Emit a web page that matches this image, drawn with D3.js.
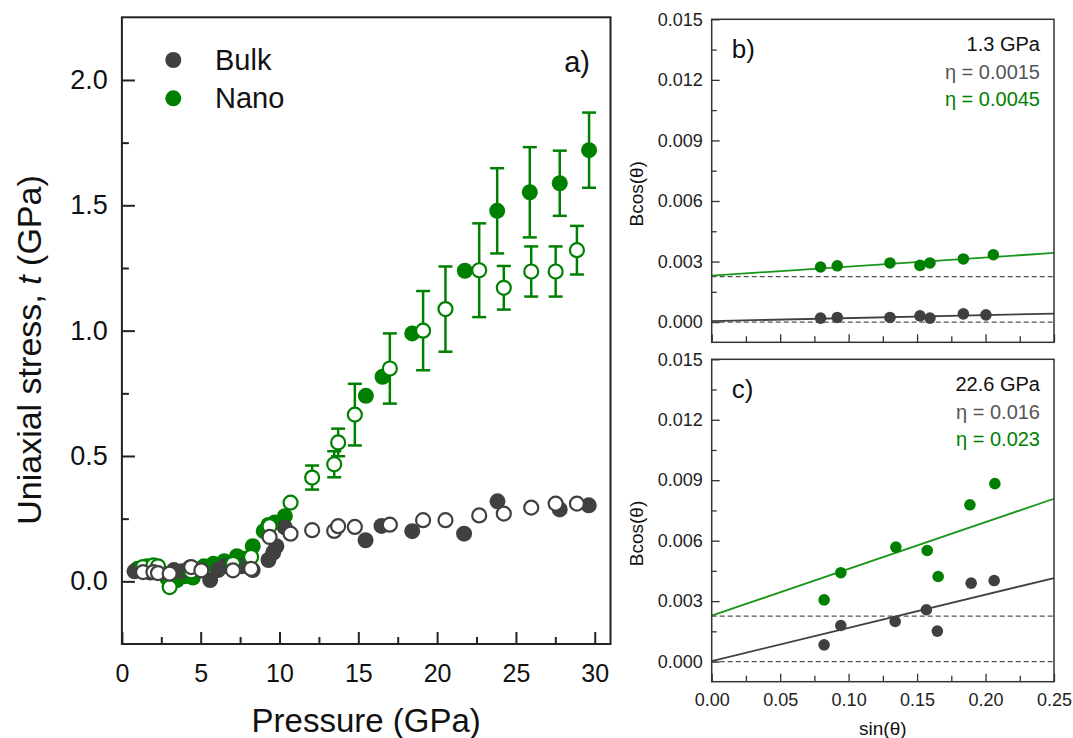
<!DOCTYPE html>
<html><head><meta charset="utf-8">
<script src="https://cdn.jsdelivr.net/npm/d3@7/dist/d3.min.js"></script>
<style>
body{margin:0;background:#fff;}
svg{display:block;font-family:"Liberation Sans",Arial,sans-serif;}
</style></head><body>
<svg id="chart" width="1073" height="738"></svg>
<script>
// ---------- Panel a data ----------
const bulkFilledP = [0.8,1.3,1.8,2.5,3.3,3.8,4.3,5.0,5.6,6.1,6.5,7.0,7.6,8.3,9.3,9.6,9.8,10.34,15.46,16.47,18.42,21.71,23.83,27.78,29.62];
const bulkFilledT = [0.04,0.045,0.035,0.035,0.045,0.04,0.055,0.045,0.005,0.045,0.06,0.065,0.06,0.045,0.085,0.115,0.14,0.215,0.164,0.221,0.2,0.19,0.319,0.287,0.303];

const nanoFilledP = [1.0,1.6,2.3,2.9,3.5,4.0,4.5,5.2,5.8,6.5,7.3,7.8,8.3,9.0,9.3,9.7,10.34,15.48,16.54,18.42,21.76,23.81,25.88,27.78,29.64];
const nanoFilledT = [0.05,0.06,0.04,0.01,0.005,0.02,0.015,0.06,0.07,0.08,0.1,0.09,0.14,0.2,0.225,0.235,0.26,0.74,0.816,0.989,1.239,1.478,1.552,1.588,1.72];
const nanoFilledErr = [0,0,0,0,0,0,0,0,0,0,0,0,0,0,0,0,0,0,0,0,0,0.17,0.18,0.13,0.15];

const openP = [1.34,2.0,2.29,3.03,4.4,5.04,7.05,8.2,9.37,10.7,12.07,13.47,13.72,14.78,17.0,19.11,20.53,22.67,24.23,25.97,27.52,28.87];
const bulkOpenT = [0.037,0.037,0.033,0.031,0.057,0.044,0.044,0.05,0.177,0.19,0.204,0.201,0.22,0.217,0.226,0.244,0.244,0.263,0.27,0.294,0.31,0.31];
const nanoOpenT = [0.057,0.064,0.06,-0.023,0.04,0.05,0.07,0.097,0.22,0.314,0.414,0.467,0.554,0.665,0.849,1.0,1.086,1.241,1.171,1.236,1.236,1.321];
const nanoOpenErr = [0,0,0,0,0,0,0,0,0,0,0.048,0.052,0.055,0.123,0.14,0.158,0.17,0.187,0.087,0.1,0.1,0.097];

const pressureTicks = [0,5,10,15,20,25,30];
const stressTicks = [0,0.5,1.0,1.5,2.0];
const legendLabels = ["Bulk","Nano"];

// ---------- Panels b, c data ----------
const bSinGray = [0.0795,0.0917,0.1302,0.1521,0.1594,0.1838,0.2003];
const bBGray   = [0.0002,0.00023,0.00023,0.00031,0.0002,0.00041,0.00036];
const bSinGreen = [0.0795,0.0917,0.1302,0.1521,0.1594,0.1838,0.2057];
const bBGreen   = [0.00273,0.00279,0.00293,0.00281,0.00293,0.00313,0.00334];
const bFit = {gray:[0.00005,0.0015], green:[0.0023,0.0045]};

const cSinGray = [0.0821,0.0943,0.1340,0.1568,0.1648,0.1895,0.2063];
const cBGray   = [0.00083,0.00179,0.00199,0.00257,0.00151,0.00389,0.00402];
const cSinGreen = [0.0821,0.0943,0.1345,0.1574,0.1654,0.1886,0.2068];
const cBGreen   = [0.00306,0.00441,0.00568,0.00551,0.00422,0.00778,0.00883];
const cFit = {gray:[0.00002,0.0165], green:[0.00228,0.0232]};

const refLevels = [0, 0.00225];
const bcosTicks = [0,0.003,0.006,0.009,0.012,0.015];
const sinTicks = [0,0.05,0.1,0.15,0.2,0.25];

const GREEN = "#008000", GRAY = "#404040", LINEGREEN = "#1a961a";

const svg = d3.select("#chart");

// ===== Panel a =====
const A = {l:121.9, r:610.5, t:17.3, b:644};
const xA = d3.scaleLinear().domain([0,31]).range([A.l,A.r]);
const yA = d3.scaleLinear().domain([-0.25,2.25]).range([A.b,A.t]);
const gA = svg.append("g");

function styleAxis(g, size){
  g.select(".domain").remove();
  g.selectAll("line").attr("stroke","#222").attr("stroke-width",2);
  g.selectAll("text").attr("fill","#111").style("font-size",size+"px");
}
let ax = gA.append("g").attr("transform",`translate(0,${A.b})`)
  .call(d3.axisBottom(xA).tickValues(pressureTicks).tickSize(-12).tickPadding(20).tickFormat(d3.format("d")));
styleAxis(ax,25);
ax = gA.append("g").attr("transform",`translate(0,${A.b})`)
  .call(d3.axisBottom(xA).tickValues(d3.range(2.5,31,5)).tickSize(-7).tickFormat(""));
styleAxis(ax,25);
ax = gA.append("g").attr("transform",`translate(${A.l},0)`)
  .call(d3.axisLeft(yA).tickValues(stressTicks).tickSize(-13).tickPadding(14).tickFormat(d3.format(".1f")));
styleAxis(ax,27);
ax = gA.append("g").attr("transform",`translate(${A.l},0)`)
  .call(d3.axisLeft(yA).tickValues([0.25,0.75,1.25,1.75]).tickSize(-7).tickFormat(""));
styleAxis(ax,27);
gA.append("rect").attr("x",A.l).attr("y",A.t).attr("width",A.r-A.l).attr("height",A.b-A.t)
  .attr("fill","none").attr("stroke","#222").attr("stroke-width",2);

function errBars(g, P, T, E, color){
  const idx = d3.range(P.length).filter(i=>E[i]>0);
  const cw = 7;
  const eg = g.append("g").attr("stroke",color).attr("stroke-width",2.5).attr("fill","none");
  idx.forEach(i=>{
    const x = xA(P[i]), y1 = yA(T[i]+E[i]), y0 = yA(T[i]-E[i]);
    eg.append("line").attr("x1",x).attr("x2",x).attr("y1",y1).attr("y2",y0);
    eg.append("line").attr("x1",x-cw).attr("x2",x+cw).attr("y1",y1).attr("y2",y1);
    eg.append("line").attr("x1",x-cw).attr("x2",x+cw).attr("y1",y0).attr("y2",y0);
  });
}
const R = 8;
errBars(gA, nanoFilledP, nanoFilledT, nanoFilledErr, GREEN);
gA.append("g").selectAll("circle").data(d3.range(nanoFilledP.length)).join("circle")
  .attr("cx",i=>xA(nanoFilledP[i])).attr("cy",i=>yA(nanoFilledT[i])).attr("r",R).attr("fill",GREEN);
gA.append("g").selectAll("circle").data(d3.range(bulkFilledP.length)).join("circle")
  .attr("cx",i=>xA(bulkFilledP[i])).attr("cy",i=>yA(bulkFilledT[i])).attr("r",R).attr("fill",GRAY);
errBars(gA, openP, nanoOpenT, nanoOpenErr, GREEN);
gA.append("g").selectAll("circle").data(d3.range(openP.length)).join("circle")
  .attr("cx",i=>xA(openP[i])).attr("cy",i=>yA(nanoOpenT[i])).attr("r",R-1)
  .attr("fill","#fff").attr("stroke",GREEN).attr("stroke-width",2.2);
gA.append("g").selectAll("circle").data(d3.range(openP.length)).join("circle")
  .attr("cx",i=>xA(openP[i])).attr("cy",i=>yA(bulkOpenT[i])).attr("r",R-1)
  .attr("fill","#fff").attr("stroke",GRAY).attr("stroke-width",2.2);

const lg = gA.append("g");
[GRAY,GREEN].forEach((c,i)=>{
  lg.append("circle").attr("cx",173.3).attr("cy",60+i*38.3).attr("r",8).attr("fill",c);
  lg.append("text").attr("x",215).attr("y",70+i*37.5).text(legendLabels[i])
    .style("font-size","29px").attr("fill","#111");
});
gA.append("text").attr("x",590).attr("y",72).attr("text-anchor","end").text("a)")
  .style("font-size","29px").attr("fill","#111");

gA.append("text").attr("x",(A.l+A.r)/2).attr("y",732).attr("text-anchor","middle")
  .style("font-size","33px").attr("fill","#111").text("Pressure (GPa)");
const yt = gA.append("text").attr("transform","translate(41,350) rotate(-90)").attr("text-anchor","middle")
  .style("font-size","34px").attr("fill","#111");
yt.append("tspan").text("Uniaxial stress, ");
yt.append("tspan").style("font-style","italic").text("t");
yt.append("tspan").text(" (GPa)");

// ===== Panels b and c =====
function panel(box, sG, bG, sN, bN, fit, label, pLabel, etaG, etaN, showX){
  const x = d3.scaleLinear().domain([0,0.25]).range([box.l,box.r]);
  const y = d3.scaleLinear().domain([-0.001,0.015]).range([box.b,box.t]);
  const g = svg.append("g");
  const st = (a)=>{a.select(".domain").remove(); a.selectAll("line").attr("stroke","#333").attr("stroke-width",1.3);
    a.selectAll("text").attr("fill","#222").style("font-size","18px");};
  let a1 = g.append("g").attr("transform",`translate(${box.l},0)`)
    .call(d3.axisLeft(y).tickValues(bcosTicks).tickSize(-8).tickPadding(9).tickFormat(d3.format(".3f")));
  st(a1);
  a1 = g.append("g").attr("transform",`translate(${box.l},0)`)
    .call(d3.axisLeft(y).tickValues([0.0015,0.0045,0.0075,0.0105,0.0135]).tickSize(-5).tickFormat(""));
  st(a1);
  a1 = g.append("g").attr("transform",`translate(0,${box.b})`)
    .call(d3.axisBottom(x).tickValues(sinTicks).tickSize(-8).tickPadding(12).tickFormat(showX?d3.format(".2f"):""));
  st(a1);
  a1 = g.append("g").attr("transform",`translate(0,${box.b})`)
    .call(d3.axisBottom(x).tickValues([0.025,0.075,0.125,0.175,0.225]).tickSize(-6).tickFormat(""));
  st(a1);
  refLevels.forEach(v=>{
    g.append("line").attr("x1",box.l).attr("x2",box.r).attr("y1",y(v)).attr("y2",y(v))
      .attr("stroke","#555").attr("stroke-width",1.3).attr("stroke-dasharray","5,3");
  });
  const line = d3.line().x(d=>x(d[0])).y(d=>y(d[1]));
  [["gray",GRAY],["green",LINEGREEN]].forEach(([k,c])=>{
    const [b0,m] = fit[k];
    g.append("path").attr("d",line([[0,b0],[0.25,b0+m*0.25]])).attr("stroke",c).attr("stroke-width",1.8).attr("fill","none");
  });
  g.append("g").selectAll("circle").data(d3.range(sG.length)).join("circle")
    .attr("cx",i=>x(sG[i])).attr("cy",i=>y(bG[i])).attr("r",5.8).attr("fill",GRAY);
  g.append("g").selectAll("circle").data(d3.range(sN.length)).join("circle")
    .attr("cx",i=>x(sN[i])).attr("cy",i=>y(bN[i])).attr("r",5.8).attr("fill",GREEN);
  g.append("rect").attr("x",box.l).attr("y",box.t).attr("width",box.r-box.l).attr("height",box.b-box.t)
    .attr("fill","none").attr("stroke","#333").attr("stroke-width",1.5);
  g.append("text").attr("x",box.l+20).attr("y",box.t+39).text(label).style("font-size","26px").attr("fill","#111");
  const rx = box.r-14;
  g.append("text").attr("x",rx).attr("y",box.t+32).attr("text-anchor","end").text(pLabel).style("font-size","20px").attr("fill","#111");
  g.append("text").attr("x",rx).attr("y",box.t+59.5).attr("text-anchor","end").text(etaG).style("font-size","20px").attr("fill","#555");
  g.append("text").attr("x",rx).attr("y",box.t+87).attr("text-anchor","end").text(etaN).style("font-size","20px").attr("fill",GREEN);
  g.append("text").attr("transform",`translate(643,${(box.t+box.b)/2+13}) rotate(-90)`).attr("text-anchor","middle")
    .style("font-size","19px").attr("fill","#111").text("Bcos(θ)");
  if(showX){
    g.append("text").attr("x",(box.l+box.r)/2).attr("y",735).attr("text-anchor","middle")
      .style("font-size","19px").attr("fill","#111").text("sin(θ)");
  }
}
panel({l:711.7,r:1054,t:19.3,b:342.3}, bSinGray,bBGray,bSinGreen,bBGreen,bFit,"b)","1.3 GPa","η = 0.0015","η = 0.0045",false);
panel({l:711.7,r:1054,t:359.3,b:681.7}, cSinGray,cBGray,cSinGreen,cBGreen,cFit,"c)","22.6 GPa","η = 0.016","η = 0.023",true);
</script>
</body></html>
